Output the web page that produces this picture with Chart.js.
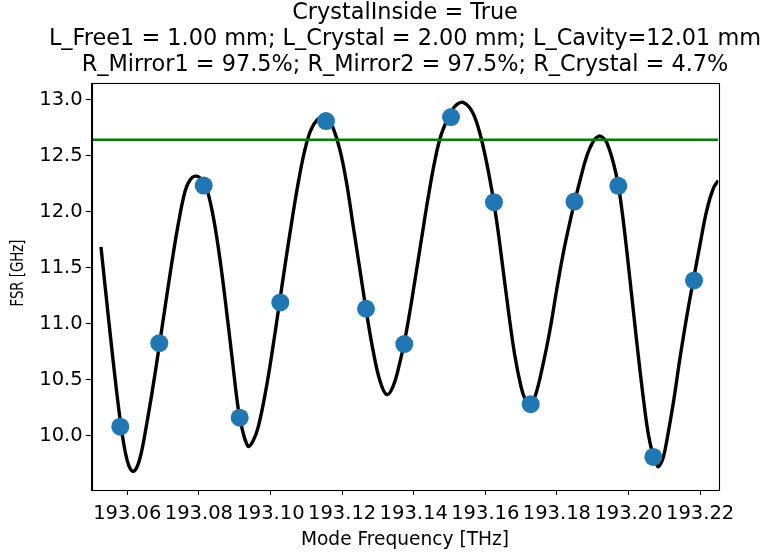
<!DOCTYPE html>
<html>
<head>
<meta charset="utf-8">
<title>FSR vs Mode Frequency</title>
<script src="https://cdn.jsdelivr.net/npm/chart.js@4/dist/chart.umd.min.js"></script>
<style>
  html, body { margin: 0; padding: 0; background: #ffffff; }
  #wrap { width: 764px; height: 558px; }
</style>
</head>
<body>
<div id="wrap"><canvas id="c" width="764" height="558"></canvas></div>
<script>
// Model curve: FSR [GHz] against mode frequency [THz]
const curveFreq = [
  193.05265, 193.05385, 193.05525, 193.05684, 193.05824, 193.05944, 193.06048, 193.06159,
  193.06271, 193.06383, 193.06503, 193.06690, 193.06877, 193.07061, 193.07249, 193.07436,
  193.07620, 193.07760, 193.07899,
  193.08039, 193.08179, 193.08366, 193.08553, 193.08737, 193.08925, 193.09112, 193.09251,
  193.09324, 193.09386,
  193.09511, 193.09651, 193.09869, 193.10056, 193.10243, 193.10427, 193.10615, 193.10788,
  193.10958, 193.11126, 193.11299, 193.11475,
  193.11615, 193.11754, 193.11941, 193.12128, 193.12313, 193.12500, 193.12687, 193.12872,
  193.13059, 193.13246,
  193.13430, 193.13617, 193.13757, 193.13897, 193.14028, 193.14212, 193.14399, 193.14587,
  193.14771, 193.15050, 193.15210, 193.15377,
  193.15609, 193.15796, 193.15983, 193.16168, 193.16307, 193.16447, 193.16634, 193.16821,
  193.17006, 193.17123, 193.17240,
  193.17388, 193.17620, 193.17807, 193.17994, 193.18179, 193.18366, 193.18492, 193.18645,
  193.18832, 193.19017, 193.19176,
  193.19288, 193.19391, 193.19575, 193.19715, 193.19832, 193.19950, 193.20134, 193.20321,
  193.20508, 193.20601, 193.20693, 193.20768, 193.20832,
  193.20936, 193.21020, 193.21251, 193.21439, 193.21626, 193.21830, 193.21997, 193.22184,
  193.22369, 193.22508
];
const curveFsr = [
  11.685, 11.321, 10.901, 10.445, 10.087, 9.854, 9.729, 9.682,
  9.720, 9.836, 10.033, 10.382, 10.767, 11.160, 11.554, 11.911,
  12.189, 12.287, 12.317,
  12.301, 12.242, 12.013, 11.655, 11.208, 10.701, 10.212, 10.006,
  9.935, 9.903,
  9.953, 10.069, 10.403, 10.767, 11.169, 11.565, 11.953, 12.281,
  12.549, 12.728, 12.818, 12.842,
  12.819, 12.743, 12.549, 12.251, 11.864, 11.476, 11.089, 10.749,
  10.489, 10.367,
  10.445, 10.659, 10.865, 11.115, 11.375, 11.744, 12.117, 12.448,
  12.690, 12.895, 12.958, 12.976,
  12.907, 12.758, 12.520, 12.216, 11.938, 11.607, 11.142, 10.722,
  10.427, 10.319, 10.284,
  10.349, 10.648, 10.945, 11.303, 11.631, 11.911, 12.081, 12.278,
  12.493, 12.627, 12.674,
  12.658, 12.618, 12.439, 12.233, 11.974, 11.655, 11.118, 10.581,
  10.105, 9.935, 9.818, 9.756, 9.723,
  9.774, 9.872, 10.292, 10.695, 11.062, 11.420, 11.706, 12.010,
  12.207, 12.278
];

// Resonator modes
const modeFreq = [
  193.05804, 193.06894, 193.08134, 193.09140, 193.10274, 193.11550, 193.12668, 193.13737,
  193.15042, 193.16243, 193.17268, 193.18490, 193.19715, 193.20693, 193.21830
];
const modeFsr = [
  10.080, 10.826, 12.233, 10.161, 11.190, 12.809, 11.133, 10.818,
  12.844, 12.084, 10.281, 12.090, 12.231, 9.810, 11.386
];

// Empty-cavity reference FSR
const fsrReference = 12.642;

// Axis ranges and tick labels
const xRange = [193.05006, 193.22508];
const yRange = [9.515, 13.148];
const xTicks = [193.06, 193.08, 193.10, 193.12, 193.14, 193.16, 193.18, 193.20, 193.22];
const yTicks = [10.0, 10.5, 11.0, 11.5, 12.0, 12.5, 13.0];

const titleLines = [
  'CrystalInside = True',
  'L_Free1 = 1.00 mm; L_Crystal = 2.00 mm; L_Cavity=12.01 mm',
  'R_Mirror1 = 97.5%; R_Mirror2 = 97.5%; R_Crystal = 4.7%'
];
const yAxisLabel = 'FSR [GHz]';

const FONT = '"DejaVu Sans", "Liberation Sans", sans-serif';

// Box around the plotting area (drawn over the data, like axes spines)
// and the rotated y-axis caption.
const frame = {
  id: 'frame',
  afterLayout(chart) {
    // the title row is offset by the left padding; let the y scale
    // reach the canvas edge so its tick labels are not clipped
    const y = chart.scales.y;
    y.left = 0;
    y.width = y.right;
  },
  afterDatasetsDraw(chart) {
    const a = chart.chartArea, ctx = chart.ctx;
    ctx.save();
    ctx.strokeStyle = '#000';
    ctx.lineWidth = 1.1;
    ctx.strokeRect(Math.round(a.left) + 0.5, Math.round(a.top) + 0.5,
                   Math.round(a.right - a.left), Math.round(a.bottom - a.top));
    ctx.restore();
  },
  afterDraw(chart) {
    const ctx = chart.ctx;
    ctx.save();
    ctx.translate(19, 273);
    ctx.rotate(-Math.PI / 2);
    ctx.fillStyle = '#000';
    ctx.font = '17px ' + FONT;
    ctx.textAlign = 'center';
    ctx.textBaseline = 'middle';
    ctx.fillText(yAxisLabel, 0, 0, 67);
    ctx.restore();
  }
};

new Chart(document.getElementById('c'), {
  type: 'line',
  data: {
    datasets: [
      {
        label: 'modes',
        type: 'scatter',
        data: modeFreq.map((f, i) => ({ x: f, y: modeFsr[i] })),
        backgroundColor: '#1f77b4',
        borderColor: '#1f77b4',
        pointRadius: 9,
        pointBorderWidth: 0,
        showLine: false,
        order: 0
      },
      {
        label: 'reference',
        data: [{ x: xRange[0], y: fsrReference }, { x: xRange[1], y: fsrReference }],
        borderColor: '#008000',
        borderWidth: 2.4,
        pointRadius: 0,
        fill: false,
        order: 1
      },
      {
        label: 'model',
        data: curveFreq.map((f, i) => ({ x: f, y: curveFsr[i] })),
        borderColor: '#000000',
        borderWidth: 3.4,
        pointRadius: 0,
        tension: 0.4,
        fill: false,
        order: 2
      }
    ]
  },
  options: {
    responsive: false,
    animation: false,
    devicePixelRatio: 1,
    layout: { padding: { top: 0, left: 46, right: 0, bottom: 0 } },
    plugins: {
      legend: { display: false },
      tooltip: { enabled: false },
      title: {
        display: true,
        text: titleLines,
        color: '#000',
        font: { family: FONT, size: 22.4, weight: 'normal', lineHeight: 1.16 },
        padding: { top: 0, bottom: 5.1 }
      }
    },
    scales: {
      x: {
        type: 'linear',
        min: xRange[0],
        max: xRange[1],
        afterBuildTicks: s => { s.ticks = xTicks.map(v => ({ value: v })); },
        afterFit: s => { s.height = 68; },
        grid: { display: true, drawOnChartArea: false, drawTicks: true, tickLength: 5, tickColor: '#000', tickWidth: 1 },
        border: { display: true, color: '#000', width: 1 },
        ticks: {
          color: '#000',
          padding: 7,
          maxRotation: 0,
          autoSkip: false,
          font: { family: FONT, size: 19.5 },
          callback: v => Number(v).toFixed(2)
        },
        title: {
          display: true,
          text: 'Mode Frequency [THz]',
          color: '#000',
          font: { family: FONT, size: 18.6 },
          padding: { top: 0, bottom: 7 }
        }
      },
      y: {
        type: 'linear',
        min: yRange[0],
        max: yRange[1],
        afterBuildTicks: s => { s.ticks = yTicks.map(v => ({ value: v })); },
        afterFit: s => { s.width = 45.7; },
        grid: { display: true, drawOnChartArea: false, drawTicks: true, tickLength: 6, tickColor: '#000', tickWidth: 1 },
        border: { display: true, color: '#000', width: 1 },
        ticks: {
          color: '#000',
          padding: 3,
          autoSkip: false,
          font: { family: FONT, size: 19.5 },
          callback: v => Number(v).toFixed(1)
        },
        title: { display: false }
      },
      // empty strip on the right that keeps the plot box narrower than the title row
      margin: {
        position: 'right',
        display: true,
        grid: { display: false, drawTicks: false },
        border: { display: false },
        ticks: { display: false },
        title: { display: false },
        afterFit: s => { s.width = 45.7; }
      }
    }
  },
  plugins: [frame]
});
</script>
</body>
</html>
